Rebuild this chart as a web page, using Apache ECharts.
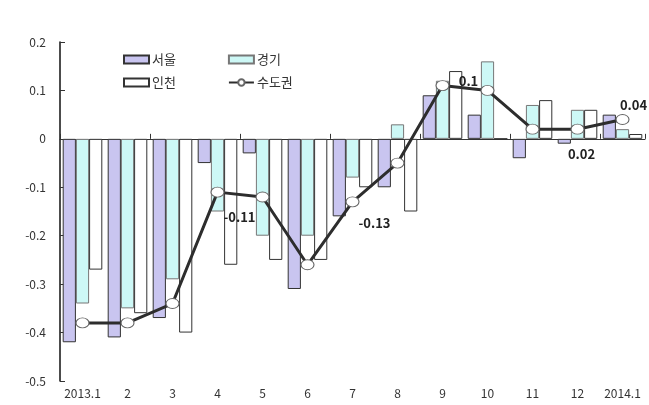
<!DOCTYPE html>
<html><head><meta charset="utf-8">
<script src="https://cdn.jsdelivr.net/npm/echarts@6/dist/echarts.min.js"></script>
<style>html,body{margin:0;padding:0;background:#fff}#c{width:649px;height:405px}</style>
</head><body><div id="c"></div>
<script>
const categories = ['2013.1','2','3','4','5','6','7','8','9','10','11','12','2014.1'];
const seoul   = [-0.42,-0.41,-0.37,-0.05,-0.03,-0.31,-0.16,-0.10,0.09,0.05,-0.04,-0.01,0.05];
const gyeonggi= [-0.34,-0.35,-0.29,-0.15,-0.20,-0.20,-0.08,0.03,0.12,0.16,0.07,0.06,0.02];
const incheon = [-0.27,-0.36,-0.40,-0.26,-0.25,-0.25,-0.10,-0.15,0.14,0,0.08,0.06,0.01];
const capital = [-0.38,-0.38,-0.34,-0.11,-0.12,-0.26,-0.13,-0.05,0.11,0.10,0.02,0.02,0.04];
const yTicks = [-0.5,-0.4,-0.3,-0.2,-0.1,0,0.1,0.2];

const F = "'Noto Sans CJK KR','Noto Sans',sans-serif";
// label placement style for labelled points of the 수도권 line
const labelStyle = {3:[22,25],6:[22,21],9:[-19,-9],11:[4,25],12:[11,-14]};
const capitalData = capital.map((v,i)=>{
  const o = labelStyle[i];
  if(!o) return v;
  return {value:v,label:{show:true,position:'inside',offset:o,formatter:p=>String(p.value),
    fontFamily:F,fontSize:13,fontWeight:'bold',color:'#222'}};
});

const chart = echarts.init(document.getElementById('c'),null,{renderer:'canvas'});
const legText = {fontFamily:F,fontSize:13,color:'#333',padding:[0,0,0,-2]};
chart.setOption({
  animation:false,
  textStyle:{fontFamily:F},
  grid:{left:60,right:4,top:42,bottom:24,containLabel:false},
  legend:[
    {left:118,top:48,itemWidth:25,itemHeight:8,itemGap:52,
     data:[{name:'서울',icon:'rect'},{name:'경기',icon:'rect'}],textStyle:legText},
    {left:118,top:71,itemWidth:25,itemHeight:8,itemGap:52,
     data:[{name:'인천',icon:'rect'},'수도권'],textStyle:legText}
  ],
  xAxis:[
    {type:'category',data:categories,position:'bottom',
     axisLine:{show:false,onZero:false},axisTick:{show:false},
     axisLabel:{fontFamily:F,fontSize:12,color:'#333',margin:6,interval:0}},
    {type:'category',data:categories,position:'bottom',
     axisLine:{show:true,onZero:true,lineStyle:{color:'#333',width:1}},
     axisTick:{show:true,inside:true,length:5,lineStyle:{color:'#333'}},
     axisLabel:{show:false}}
  ],
  yAxis:{type:'value',min:-0.5,max:0.2,interval:0.1,
    axisLine:{show:true,lineStyle:{color:'#111',width:1.5}},
    axisTick:{show:true,inside:true,length:5,lineStyle:{color:'#333'}},
    splitLine:{show:false},
    axisLabel:{fontFamily:F,fontSize:12,color:'#333',margin:14,
      formatter:v=>{const t=yTicks.find(x=>Math.abs(x-v)<1e-9);return t===undefined?'':String(t);}}},
  series:[
    {name:'서울',type:'bar',data:seoul,barGap:'0%',barCategoryGap:'12%',
     itemStyle:{color:'#c9c5f0',borderColor:'#333',borderWidth:1}},
    {name:'경기',type:'bar',data:gyeonggi,barGap:'0%',barCategoryGap:'12%',
     itemStyle:{color:'#cdf8f6',borderColor:'#777',borderWidth:1}},
    {name:'인천',type:'bar',data:incheon,barGap:'0%',barCategoryGap:'12%',
     itemStyle:{color:'#ffffff',borderColor:'#333',borderWidth:1}},
    {name:'수도권',type:'line',data:capitalData,z:5,symbol:'circle',symbolSize:[13,10],
     lineStyle:{color:'#2d2d2d',width:3},
     itemStyle:{color:'#ffffff',borderColor:'#666',borderWidth:1}}
  ]
});
</script></body></html>
